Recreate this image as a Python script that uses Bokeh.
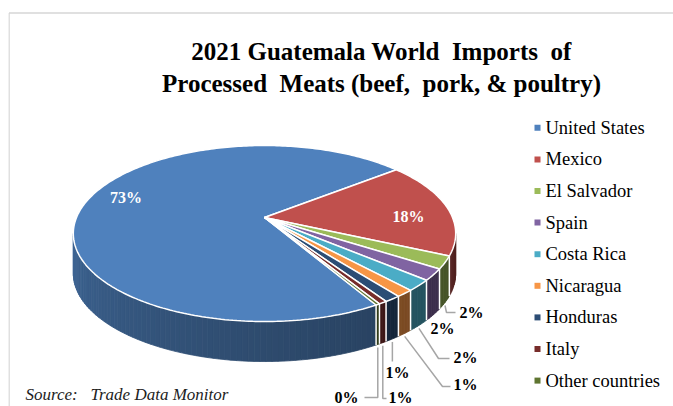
import math
import numpy as np
from bokeh.plotting import figure
from bokeh.models import Range1d
from bokeh.core.properties import value
from bokeh.embed import file_html
from bokeh.resources import INLINE

# ---------------- data ----------------
countries = ["United States", "Mexico", "El Salvador", "Spain", "Costa Rica",
             "Nicaragua", "Honduras", "Italy", "Other countries"]
shares = [72.6, 17.6, 2.3, 2.1, 2.0, 1.3, 1.2, 0.6, 0.3]
colors = ["#4F81BD", "#C0504D", "#9BBB59", "#8064A2", "#4BACC6",
          "#F79646", "#2C4D75", "#772C2A", "#5F7530"]
NB = "\u00a0"
title_lines = ["2021 Guatemala World" + NB + " Imports" + NB + " of",
               "Processed" + NB + " Meats (beef," + NB + " pork, & poultry)"]
source_note = "Source:" + NB + NB + " Trade Data Monitor"

# ---------------- style / geometry ----------------
W, H = 665, 398
FONT = value("Liberation Serif")
CX, CY, RX, RY, K, DEPTH = 264.0, 217.0, 188.0, 85.1, 0.182, 40.0
ROTATION = 150.0          # angle of first slice, clockwise from 12 o'clock
INSIDE_R = 0.78
INSIDE_OFFSETS = {0: (2, -8), 1: (1, 7)}
OUT_TEXT = {2: (459, 312, "left"), 3: (430, 328, "left"), 4: (453, 357, "left"),
            5: (453, 384, "left"), 6: (385, 372, "left"), 7: (388, 397, "left"),
            8: (358, 397, "right")}
OUT_LEADER = {2: [(446, 312), (455, 312)], 3: [], 4: [(438, 358), (449, 358)],
              5: [(442, 386), (450, 386)], 6: [(None, 361)],
              7: [(None, 398), (386, 398)], 8: [(None, 397), (364, 397)]}
LEG_X, LEG_Y0, LEG_DY = 537, 127.3, 31.6


def proj(t_deg, r=1.0, h=0.0):
    t = np.radians(t_deg)
    u, v = r * np.cos(t), r * np.sin(t)
    den = 1 + K * v
    return CX + RX * u / den, CY - RY * v / den + h * DEPTH


def shade(hexc, f):
    h = hexc.lstrip("#")
    rgb = [int(h[i:i + 2], 16) for i in (0, 2, 4)]
    return "#%02x%02x%02x" % tuple(max(0, min(255, int(round(c * f)))) for c in rgb)


p = figure(width=W, height=H, x_range=Range1d(8, 673), y_range=Range1d(406, 8),
           output_backend="svg", toolbar_location=None,
           x_axis_location=None, y_axis_location=None,
           min_border=0, outline_line_color=None, background_fill_color="white",
           border_fill_color="white")
p.xgrid.visible = False
p.ygrid.visible = False
p.styles = {"position": "absolute", "top": "8px", "left": "8px"}

# chart border
p.segment(x0=[8.5, 8.5], y0=[12.5, 12.5], x1=[673, 8.5], y1=[12.5, 406],
          line_color="#d6d6d6", line_width=1.5)

# slice angles (math degrees, clockwise)
start = 90.0 - ROTATION
tot = float(sum(shares))
bounds = []
cum = 0.0
for v in shares:
    hi = start - 360.0 * cum / tot
    lo = hi - 360.0 * v / tot
    bounds.append((lo, hi))
    cum += v

VIS_HI = -math.degrees(math.asin(K))
VIS_LO = -180.0 - VIS_HI

# ---- side walls ----
sx, sy, sc = [], [], []
sep_x0, sep_y0, sep_x1, sep_y1 = [], [], [], []
for i, (lo, hi) in enumerate(bounds):
    for shift in (-360.0, 0.0, 360.0):
        a, b = max(lo + shift, VIS_LO), min(hi + shift, VIS_HI)
        if b <= a:
            continue
        n = max(1, int(math.ceil((b - a) / 1.5)))
        edges = np.linspace(a, b, n + 1)
        for t0, t1 in zip(edges[:-1], edges[1:]):
            x0, y0 = proj(t0)
            x1, y1 = proj(t1)
            sx.append([x0, x1, x1, x0])
            sy.append([y0, y1, y1 + DEPTH, y0 + DEPTH])
            s = ((t0 + t1) / 2 - VIS_LO) / (VIS_HI - VIS_LO)
            sc.append(shade(colors[i], 0.80 - 0.38 * s ** 0.8))
    for shift in (-360.0, 0.0, 360.0):
        bt = hi + shift
        if VIS_LO < bt < VIS_HI:
            x, y = proj(bt)
            sep_x0.append(x); sep_y0.append(y)
            sep_x1.append(x); sep_y1.append(y + DEPTH)

p.patches(xs=sx, ys=sy, fill_color=sc, line_color=sc, line_width=0.8)
p.segment(x0=sep_x0, y0=sep_y0, x1=sep_x1, y1=sep_y1, line_color="white", line_width=1.5)

# ---- top faces ----
tx, ty = [], []
for lo, hi in bounds:
    n = max(2, int(math.ceil((hi - lo) / 1.0)) + 1)
    ts = np.linspace(lo, hi, n)
    xs, ys = proj(ts)
    tx.append([CX] + list(xs))
    ty.append([CY] + list(ys))
p.patches(xs=tx, ys=ty, fill_color=colors, line_color="white", line_width=1.5)

# ---- data labels ----
labels = ["%d%%" % int(math.floor(v / tot * 100 + 0.5)) for v in shares]
for i, (lo, hi) in enumerate(bounds):
    mid = (lo + hi) / 2
    if i in INSIDE_OFFSETS:
        x, y = proj(mid, INSIDE_R)
        dx, dy = INSIDE_OFFSETS[i]
        p.text(x=[x + dx], y=[y + dy], text=[labels[i]], text_color="white",
               text_font=FONT, text_font_size="16px", text_font_style="bold",
               text_align="center", text_baseline="middle")
    else:
        ax, ay = proj(mid, 1.0, 1.0)
        ay += 3
        pts = [(ax, ay)] + [((ax if px is None else px), py) for px, py in OUT_LEADER[i]]
        if len(pts) > 1:
            p.line(x=[q[0] for q in pts], y=[q[1] for q in pts],
                   line_color="#a6a6a6", line_width=1.5)
        txx, tyy, al = OUT_TEXT[i]
        p.text(x=[txx], y=[tyy], text=[labels[i]], text_color="black",
               text_font=FONT, text_font_size="16px", text_font_style="bold",
               text_align=al, text_baseline="middle")

# ---- title ----
p.text(x=[381, 381], y=[51, 83], text=title_lines, text_font=FONT,
       text_font_size="25px", text_font_style="bold", text_align="center",
       text_baseline="alphabetic", text_color="black")

# ---- legend ----
ly = [LEG_Y0 + LEG_DY * i for i in range(len(countries))]
p.scatter(x=[LEG_X] * len(countries), y=ly, marker="square", size=6,
          fill_color=colors, line_color=None)
p.text(x=[LEG_X + 8] * len(countries), y=ly, text=countries, text_font=FONT,
       text_font_size="18.5px", text_align="left", text_baseline="middle",
       text_color="black")

# ---- source ----
p.text(x=[25], y=[394], text=[source_note], text_font=FONT, text_font_size="17px",
       text_font_style="italic", text_align="left", text_baseline="middle",
       text_color="#222222")

open("out.html", "w").write(file_html(p, INLINE))
